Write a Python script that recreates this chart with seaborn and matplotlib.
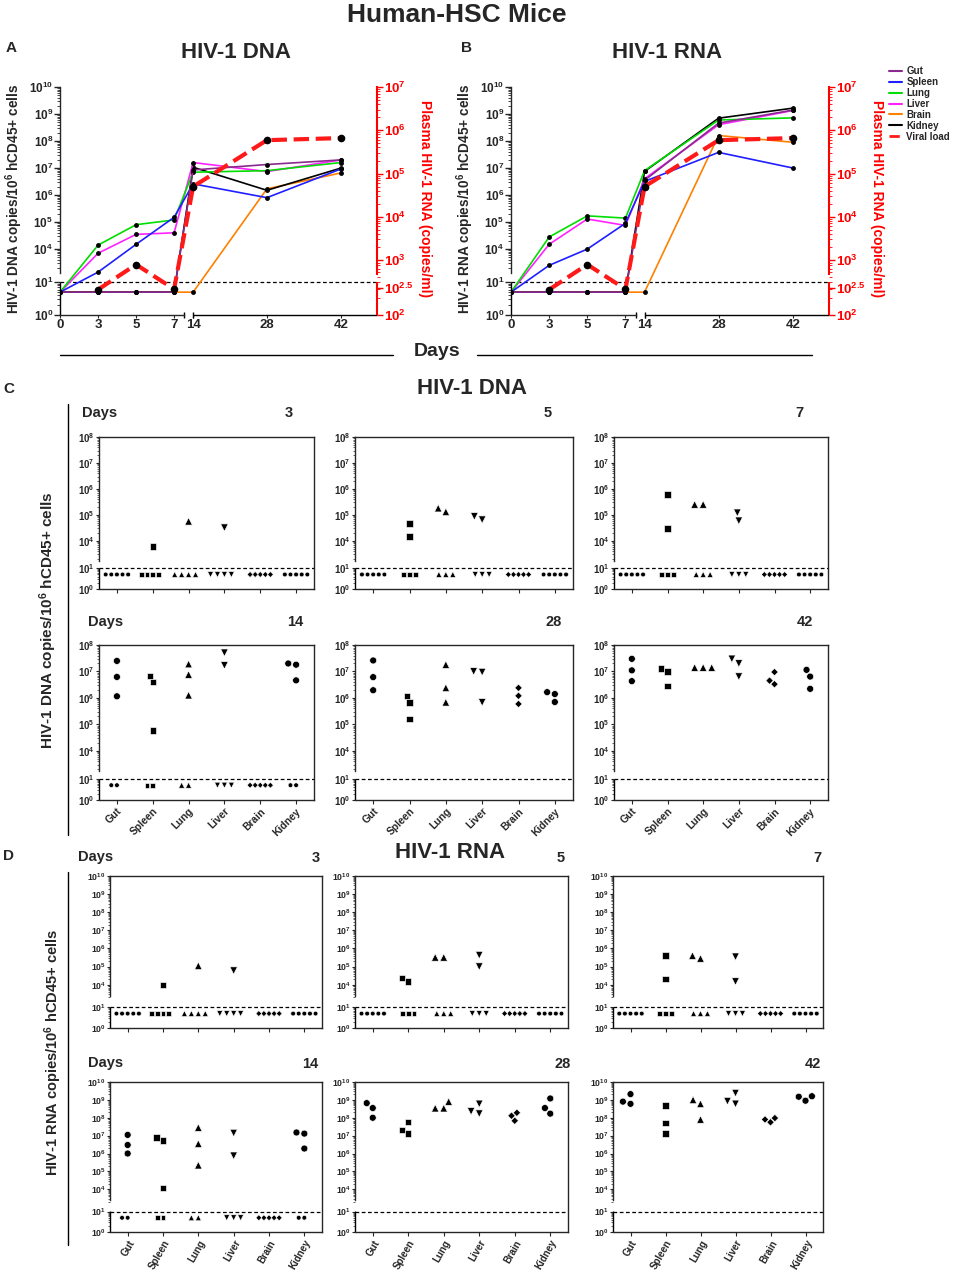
import numpy as np
import matplotlib
matplotlib.use('Agg')
import matplotlib.pyplot as plt
from matplotlib.lines import Line2D
from matplotlib.markers import MarkerStyle
import seaborn as sns
import warnings

warnings.filterwarnings('ignore')

# ---- data for panels A and B (copies / 10^6 hCD45+ cells) ----
days = [0, 3, 5, 7, 14, 28, 42]
organs = ['Gut', 'Spleen', 'Lung', 'Liver', 'Brain', 'Kidney']

dna_gut = [5, 5, 5, 5, 8.5e6, 1.35e7, 2.0e7]
dna_spleen = [5, 1.4e3, 1.5e4, 1.5e5, 2.6e6, 8.0e5, 9.3e6]
dna_lung = [5, 1.4e4, 8.0e4, 1.2e5, 7.0e6, 8.0e6, 1.6e7]
dna_liver = [5, 7.0e3, 3.5e4, 4.0e4, 1.6e7, 7.4e6, 2.0e7]
dna_brain = [5, 5, 5, 5, 5, 1.7e6, 6.6e6]
dna_kidney = [5, 5, 5, 5, 1.07e7, 1.5e6, 1.0e7]

rna_gut = [5, 5, 5, 5, 3.5e6, 4.6e8, 1.4e9]
rna_spleen = [5, 2.5e3, 1.0e4, 9.0e4, 3.2e6, 3.8e7, 1.0e7]
rna_lung = [5, 2.8e4, 1.7e5, 1.4e5, 8.0e6, 6.0e8, 7.2e8]
rna_liver = [5, 1.5e4, 1.3e5, 7.5e4, 4.0e6, 4.0e8, 1.35e9]
rna_brain = [5, 5, 5, 5, 5, 1.6e8, 9.0e7]
rna_kidney = [5, 5, 5, 5, 7.5e6, 7.0e8, 1.65e9]

# plasma viral load (copies/ml)
viral_days = [3, 5, 7, 14, 28, 42]
viral_load = [290, 830, 295, 5.0e4, 5.9e5, 6.6e5]

lod = 10  # detection limit

# ---- data for panels C and D (individual mice) ----
dna_d3 = {'Gut': [5, 5, 5, 5, 5], 'Spleen': [6e3, 5, 5, 5, 5], 'Lung': [5.6e4, 5, 5, 5, 5],
          'Liver': [3.2e4, 5, 5, 5, 5], 'Brain': [5, 5, 5, 5, 5], 'Kidney': [5, 5, 5, 5, 5]}
dna_d5 = {'Gut': [5, 5, 5, 5, 5], 'Spleen': [4.7e4, 1.45e4, 5, 5, 5], 'Lung': [1.8e5, 1.3e5, 5, 5, 5],
          'Liver': [8.7e4, 6.5e4, 5, 5, 5], 'Brain': [5, 5, 5, 5, 5], 'Kidney': [5, 5, 5, 5, 5]}
dna_d7 = {'Gut': [5, 5, 5, 5, 5], 'Spleen': [6e5, 3e4, 5, 5, 5], 'Lung': [2.5e5, 2.5e5, 5, 5, 5],
          'Liver': [1.2e5, 5.9e4, 5, 5, 5], 'Brain': [5, 5, 5, 5, 5], 'Kidney': [5, 5, 5, 5, 5]}
dna_d14 = {'Gut': [2.5e7, 6.2e6, 1.15e6, 5, 5], 'Spleen': [6.9e6, 3.9e6, 5.8e4, 5, 5],
           'Lung': [1.9e7, 7.6e6, 1.26e6, 5, 5], 'Liver': [5.1e7, 1.7e7, 5, 5, 5],
           'Brain': [5, 5, 5, 5, 5], 'Kidney': [2e7, 1.8e7, 4.6e6, 5, 5]}
dna_d28 = {'Gut': [2.6e7, 6.1e6, 1.95e6], 'Spleen': [1.2e6, 6.8e5, 1.6e5], 'Lung': [1.8e7, 2.4e6, 6.8e5],
           'Liver': [1e7, 9.5e6, 6.8e5], 'Brain': [2.4e6, 1.2e6, 5.9e5], 'Kidney': [1.65e6, 1.4e6, 7e5]}
dna_d42 = {'Gut': [3e7, 1.1e7, 4.3e6], 'Spleen': [1.3e7, 1e7, 2.8e6], 'Lung': [1.4e7, 1.4e7, 1.4e7],
           'Liver': [3e7, 2e7, 6.4e6], 'Brain': [9.5e6, 4.5e6, 3.3e6], 'Kidney': [1.15e7, 6.4e6, 2.2e6]}

rna_d3 = {'Gut': [5, 5, 5, 5, 5], 'Spleen': [1e4, 5, 5, 5, 5], 'Lung': [1.1e5, 5, 5, 5, 5],
          'Liver': [6e4, 5, 5, 5, 5], 'Brain': [5, 5, 5, 5, 5], 'Kidney': [5, 5, 5, 5, 5]}
rna_d5 = {'Gut': [5, 5, 5, 5, 5], 'Spleen': [2.3e4, 1.5e4, 5, 5, 5], 'Lung': [3.2e5, 3.2e5, 5, 5, 5],
          'Liver': [4.3e5, 1e5, 5, 5, 5], 'Brain': [5, 5, 5, 5, 5], 'Kidney': [5, 5, 5, 5, 5]}
rna_d7 = {'Gut': [5, 5, 5, 5, 5], 'Spleen': [4e5, 2e4, 5, 5, 5], 'Lung': [4e5, 2.8e5, 5, 5, 5],
          'Liver': [3.5e5, 1.5e4, 5, 5, 5], 'Brain': [5, 5, 5, 5, 5], 'Kidney': [5, 5, 5, 5, 5]}
rna_d14 = {'Gut': [1.1e7, 3e6, 1e6, 5, 5], 'Spleen': [8e6, 5.3e6, 1.2e4, 5, 5],
           'Lung': [2.8e7, 3.5e6, 2.2e5, 5, 5], 'Liver': [1.4e7, 7.5e5, 5, 5, 5],
           'Brain': [5, 5, 5, 5, 5], 'Kidney': [1.5e7, 1.3e7, 1.9e6, 5, 5]}
rna_d28 = {'Gut': [6.6e8, 3.5e8, 1e8], 'Spleen': [6e7, 2.1e7, 1.3e7], 'Lung': [8e8, 3.4e8, 3.4e8],
           'Liver': [6e8, 2.3e8, 1.7e8], 'Brain': [1.9e8, 1.3e8, 6.8e7], 'Kidney': [1.2e9, 3.5e8, 1.7e8]}
rna_d42 = {'Gut': [2.1e9, 8e8, 6e8], 'Spleen': [4.9e8, 5e7, 1.3e7], 'Lung': [1e9, 6e8, 8e7],
           'Liver': [2.4e9, 8.5e8, 6e8], 'Brain': [9.6e7, 8e7, 5.6e7], 'Kidney': [1.6e9, 1.5e9, 9e8]}

# ---- styling ----
organ_colors = {'Gut': '#8a2a8f', 'Spleen': '#1f1fff', 'Lung': '#00dd00', 'Liver': '#ff22ff',
                'Brain': '#ff8000', 'Kidney': 'black'}
organ_markers = {'Gut': 'o', 'Spleen': 's', 'Lung': '^', 'Liver': 'v', 'Brain': 'D', 'Kidney': 'o'}
marker_size = {'Gut': 5, 'Spleen': 4.6, 'Lung': 5.4, 'Liver': 5.4, 'Brain': 3.8, 'Kidney': 5}
nd_scale = {'Gut': 0.68, 'Spleen': 0.75, 'Lung': 0.8, 'Liver': 0.8, 'Brain': 0.8, 'Kidney': 0.68}
draw_order = ['Brain', 'Kidney', 'Liver', 'Lung', 'Spleen', 'Gut']

sns.set_style('ticks')
plt.rcParams['font.family'] = ['Liberation Sans', 'DejaVu Sans']
plt.rcParams['font.weight'] = 'bold'
plt.rcParams['mathtext.fontset'] = 'custom'
plt.rcParams['mathtext.rm'] = 'Liberation Sans:bold'
plt.rcParams['mathtext.it'] = 'Liberation Sans:bold'
plt.rcParams['mathtext.bf'] = 'Liberation Sans:bold'
plt.rcParams['mathtext.default'] = 'rm'
plt.rcParams['axes.linewidth'] = 1.0


# broken log axis: 10^0..10^1 stretched by b, gap up to 10^3, 10^4 sits at t4
def broken_log(b, t4):
    mid = t4 - 1 - b

    def fwd(v):
        L = np.log10(np.clip(np.asarray(v, dtype=float), 1e-6, None))
        return np.where(L <= 1, b * L, np.where(L <= 3, b + (L - 1) * mid / 2, t4 + L - 4))

    def inv(p):
        p = np.clip(np.asarray(p, dtype=float), -50, 50)
        return np.where(p <= b, 10 ** (p / b),
                        np.where(p <= t4 - 1, 10 ** (1 + (p - b) * 2 / mid), 10 ** (p - t4 + 4)))
    return fwd, inv


def plasma_log(k=1.27):
    def fwd(v):
        L = np.log10(np.clip(np.asarray(v, dtype=float), 1e-6, None))
        return np.where(L <= 3, k * (L - 2), k + L - 3)

    def inv(p):
        p = np.clip(np.asarray(p, dtype=float), -50, 50)
        return np.where(p <= k, 10 ** (2 + p / k), 10 ** (p - k + 3))
    return fwd, inv


# x axis of A/B: early days evenly spaced, later days linear
day_knots = [-7, 0, 3, 5, 7, 14, 28, 42, 70]
pos_knots = [-2.33, 0, 1, 2, 3, 3.5, 5.44, 7.39, 11.28]


def day_fwd(d):
    return np.interp(np.asarray(d, dtype=float), day_knots, pos_knots)


def day_inv(p):
    return np.interp(np.asarray(p, dtype=float), pos_knots, day_knots)


def pow_label(k):
    return '$10^{%s}$' % k


def minor_list(decades):
    return [m * 10.0 ** d for d in decades for m in range(2, 10)]


W, H = 957, 1272
fig = plt.figure(figsize=(W / 100, H / 100), dpi=100)


def add_ax(l, t, r, b):
    return fig.add_axes([l / W, 1 - b / H, (r - l) / W, (b - t) / H])


def ftext(x, y, s, **kw):
    kw.setdefault('fontweight', 'bold')
    kw.setdefault('ha', 'center')
    kw.setdefault('va', 'center')
    fig.text(x / W, 1 - y / H, s, **kw)


def fline(xs, ys, **kw):
    fig.add_artist(Line2D([x / W for x in xs], [1 - y / H for y in ys],
                          transform=fig.transFigure, color='black', lw=1, **kw))


# ---- panels A and B ----
ftext(457, 15, 'Human-HSC Mice', fontsize=19)

dna_series = dict(zip(organs, [dna_gut, dna_spleen, dna_lung, dna_liver, dna_brain, dna_kidney]))
rna_series = dict(zip(organs, [rna_gut, rna_spleen, rna_lung, rna_liver, rna_brain, rna_kidney]))

top_cfg = [
    (60, 377, 'A', 11, 'HIV-1 DNA', 236, 'HIV-1 DNA copies/10$^{6}$ hCD45+ cells', 14, 425, dna_series),
    (511, 829, 'B', 467, 'HIV-1 RNA', 667, 'HIV-1 RNA copies/10$^{6}$ hCD45+ cells', 465, 877, rna_series),
]

for left, right, letter, lx, title, tx, ylab, ylx, rlx, series in top_cfg:
    ax = add_ax(left, 87, right, 315)
    ax.set_xscale('function', functions=(day_fwd, day_inv))
    ax.set_yscale('function', functions=broken_log(1.21, 2.44))
    for organ in draw_order:
        sns.lineplot(x=days, y=series[organ], ax=ax, color=organ_colors[organ], lw=1.2,
                     errorbar=None, marker='o', markersize=3.5,
                     markerfacecolor='black', markeredgecolor='black', markeredgewidth=0)
    ax.axhline(lod, color='black', ls=(0, (3, 2)), lw=0.9, zorder=1)
    ax.set_xlim(0, 48.8)
    ax.set_ylim(1, 1e10)
    ax.set_xticks(days, labels=[str(d) for d in days], fontsize=9.5, fontweight='bold')
    ax.set_yticks([1, 10] + [10.0 ** k for k in range(4, 11)],
                  labels=[pow_label(k) for k in [0, 1] + list(range(4, 11))], fontsize=8.5)
    ax.set_yticks(minor_list([0, 3, 4, 5, 6, 7, 8, 9]), minor=True)
    ax.tick_params(axis='y', which='major', length=4, width=1, pad=1)
    ax.tick_params(axis='y', which='minor', length=2, width=0.6)
    ax.tick_params(axis='x', length=2, pad=1)
    ax.set_xlabel('')
    ax.set_ylabel('')
    for side in ['top', 'right']:
        ax.spines[side].set_visible(False)
    ax.spines['left'].set_bounds(1.3e3, 1e10)
    ax.vlines(0, 1, 13, transform=ax.get_yaxis_transform(), color='black', lw=1, clip_on=False)
    ax.spines['bottom'].set_bounds(0, 10.8)
    ax.hlines(0, 14, 48.8, transform=ax.get_xaxis_transform(), color='black', lw=1, clip_on=False)
    ax.plot([10.8, 14], [0, 0], ls='none', marker='|', ms=5, mew=1, color='black',
            transform=ax.get_xaxis_transform(), clip_on=False)

    # plasma viral load on the right axis
    ax2 = ax.twinx()
    ax2.set_yscale('function', functions=plasma_log())
    sns.lineplot(x=viral_days, y=viral_load, ax=ax2, color='#ff1a1a', lw=3, linestyle='--',
                 errorbar=None, marker='o', markersize=5.5,
                 markerfacecolor='black', markeredgecolor='black', markeredgewidth=0)
    ax2.set_ylim(1e2, 1e7)
    ax2.set_xlim(0, 48.8)
    ax2.set_yticks([1e2, 10 ** 2.5, 1e3, 1e4, 1e5, 1e6, 1e7],
                   labels=[pow_label(k) for k in [2, 2.5, 3, 4, 5, 6, 7]], fontsize=9.5, color='red')
    ax2.set_yticks(minor_list([2, 3, 4, 5, 6]), minor=True)
    ax2.tick_params(axis='y', which='major', length=4, width=1, color='red', pad=1)
    ax2.tick_params(axis='y', which='minor', length=2, width=0.6, color='red')
    ax2.set_ylabel('')
    ax2.set_xlabel('')
    for side in ['top', 'left', 'bottom']:
        ax2.spines[side].set_visible(False)
    ax2.spines['right'].set_color('red')
    ax2.spines['right'].set_linewidth(1.5)
    ax2.spines['right'].set_bounds(10 ** 2.75, 1e7)
    ax2.vlines(1, 1e2, 10 ** 2.6, transform=ax2.get_yaxis_transform(), color='red', lw=1.5, clip_on=False)

    ftext(lx, 48, letter, fontsize=11)
    ftext(tx, 52, title, fontsize=16)
    ftext(ylx, 199, ylab, fontsize=9.8, rotation=90)
    ftext(rlx, 199, 'Plasma HIV-1 RNA (copies/ml)', fontsize=10, rotation=270, color='red')

ftext(437, 352, 'Days', fontsize=14)
fline([60, 393], [355, 355])
fline([477, 812], [355, 355])

legend_handles = [Line2D([], [], color=organ_colors[o], lw=1.5) for o in organs]
legend_handles.append(Line2D([], [], color='#ff1a1a', lw=2, ls='--'))
fig.legend(legend_handles, organs + ['Viral load'], loc='upper left',
           bbox_to_anchor=(889 / W, 1 - 66 / H), frameon=False,
           prop={'weight': 'bold', 'size': 7}, handlelength=1.3, handletextpad=0.5,
           labelspacing=0.1, borderpad=0, borderaxespad=0)


# ---- panels C and D ----
def scatter_panel(ax, data, ymax, b, t4, top_break, show_labels, rot, tick_fs, lab_fs):
    ax.set_yscale('function', functions=broken_log(b, t4))
    xs = [o for o in organs for v in data[o]]
    ys = [v for o in organs for v in data[o]]
    sns.swarmplot(x=xs, y=ys, order=organs, ax=ax, color='black', size=5, linewidth=0)
    # one collection per organ: give each its own marker, smaller below detection
    for organ, coll in zip(organs, ax.collections):
        ms = MarkerStyle(organ_markers[organ])
        coll.set_paths([ms.get_path().transformed(ms.get_transform())])
        yv = np.asarray(coll.get_offsets())[:, 1]
        s = marker_size[organ]
        coll.set_sizes(np.where(yv > lod, s, s * nd_scale[organ]) ** 2)
        # thin white rim keeps neighbouring markers apart
        coll.set_edgecolor('white')
        coll.set_linewidth(0.45)
    ax.axhline(lod, color='black', ls=(0, (3, 2)), lw=0.9, zorder=1)
    ax.set_xlim(-0.5, 5.5)
    ax.set_ylim(1, ymax)
    top_k = int(round(np.log10(ymax)))
    ax.set_yticks([1, 10] + [10.0 ** k for k in range(4, top_k + 1)],
                  labels=[pow_label(k) for k in [0, 1] + list(range(4, top_k + 1))], fontsize=tick_fs)
    ax.set_yticks(minor_list([0] + list(range(3, top_k))), minor=True)
    ax.tick_params(axis='y', which='major', length=2.5, width=0.8, pad=0.5)
    ax.tick_params(axis='y', which='minor', length=1.5, width=0.5)
    ax.set_xticks(range(len(organs)))
    if show_labels:
        ax.set_xticklabels(organs, rotation=rot, ha='right', rotation_mode='anchor',
                           fontsize=lab_fs, fontweight='bold')
    else:
        ax.set_xticklabels([])
    ax.tick_params(axis='x', length=3, width=0.8, pad=1.5)
    ax.set_xlabel('')
    ax.set_ylabel('')
    ax.spines['left'].set_bounds(top_break, ymax)
    ax.vlines(0, 1, 11.5, transform=ax.get_yaxis_transform(), color='black', lw=1, clip_on=False)


c_cols = [(99, 314), (355, 573), (614, 828)]
c_rows = [(437, 589), (645, 800)]
d_cols = [(110, 322), (355, 568), (613, 823)]
d_rows = [(876, 1028), (1082, 1232)]

c_sets = [[(dna_d3, '3'), (dna_d5, '5'), (dna_d7, '7')], [(dna_d14, '14'), (dna_d28, '28'), (dna_d42, '42')]]
d_sets = [[(rna_d3, '3'), (rna_d5, '5'), (rna_d7, '7')], [(rna_d14, '14'), (rna_d28, '28'), (rna_d42, '42')]]

c_num_x = [[293, 552, 803], [303, 562, 813]]
c_lab_y = [413, 622]
d_num_x = [[320, 565, 821], [318, 571, 821]]
d_lab_y = [858, 1064]

for r, (top, bot) in enumerate(c_rows):
    for c, (left, right) in enumerate(c_cols):
        data, day = c_sets[r][c]
        ax = add_ax(left, top, right, bot)
        scatter_panel(ax, data, 1e8, 0.8, 1.86, 1.7e3, r == 1, 45, 7, 7.4)
        ftext(c_num_x[r][c], c_lab_y[r], day, fontsize=10.5, ha='right')
    ftext(82 + 6 * r, c_lab_y[r], 'Days', fontsize=10.5, ha='left')

for r, (top, bot) in enumerate(d_rows):
    for c, (left, right) in enumerate(d_cols):
        data, day = d_sets[r][c]
        ax = add_ax(left, top, right, bot)
        scatter_panel(ax, data, 1e10, 1.14, 2.39, 2.5e3, r == 1, 60, 6.3, 7)
        ftext(d_num_x[r][c], d_lab_y[r], day, fontsize=10.5, ha='right')
    ftext(78 + 10 * r, d_lab_y[r] - 1, 'Days', fontsize=10.5, ha='left')

ftext(9, 389, 'C', fontsize=11)
ftext(472, 388, 'HIV-1 DNA', fontsize=16)
ftext(48, 620, 'HIV-1 DNA copies/10$^{6}$ hCD45+ cells', fontsize=11, rotation=90)
fline([68, 68], [404, 835])

ftext(9, 856, 'D', fontsize=11)
ftext(450, 852, 'HIV-1 RNA', fontsize=16)
ftext(53, 1052, 'HIV-1 RNA copies/10$^{6}$ hCD45+ cells', fontsize=10.5, rotation=90)
fline([68, 68], [872, 1245])

fig.savefig('out.png', dpi=100)
